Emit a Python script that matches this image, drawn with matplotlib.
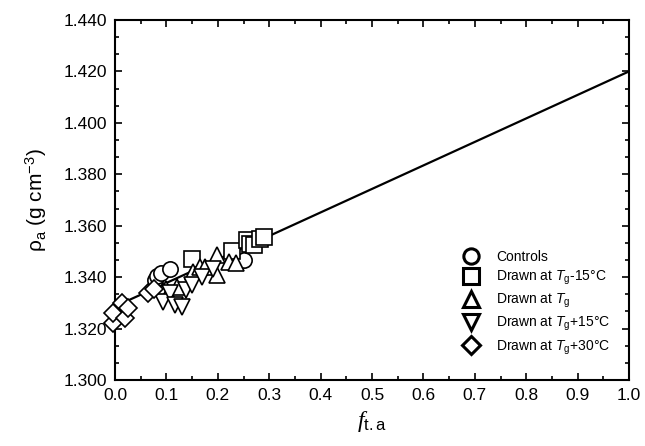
import matplotlib
matplotlib.use("Agg")
import matplotlib.pyplot as plt
from matplotlib.ticker import MultipleLocator

plt.rcParams['font.family'] = ['Liberation Sans', 'DejaVu Sans']
plt.rcParams['mathtext.fontset'] = 'custom'
plt.rcParams['mathtext.rm'] = 'Liberation Sans'
plt.rcParams['mathtext.it'] = 'Liberation Sans:italic'
plt.rcParams['mathtext.cal'] = 'Liberation Serif:italic'

# Data
controls_x = [0.078, 0.082, 0.090, 0.107, 0.250]
controls_y = [1.3390, 1.3405, 1.3415, 1.3430, 1.3465]

m15_x = [0.150, 0.227, 0.256, 0.262, 0.270, 0.282, 0.290]
m15_y = [1.3470, 1.3500, 1.3545, 1.3530, 1.3525, 1.3550, 1.3557]

tg_x = [0.100, 0.120, 0.152, 0.165, 0.175, 0.198, 0.198, 0.221, 0.235]
tg_y = [1.3355, 1.3360, 1.3420, 1.3440, 1.3440, 1.3486, 1.3408, 1.3460, 1.3455]

p15_x = [0.088, 0.094, 0.107, 0.117, 0.130, 0.139, 0.150, 0.170, 0.190]
p15_y = [1.3335, 1.3304, 1.3340, 1.3292, 1.3285, 1.3350, 1.3370, 1.3400, 1.3430]

p30_x = [-0.004, -0.003, 0.013, 0.019, 0.026, 0.065, 0.075]
p30_y = [1.3222, 1.3259, 1.3298, 1.3240, 1.3279, 1.3337, 1.3355]

fit_x = [0.0, 1.0]
fit_y = [1.3286, 1.4200]

labels = ['Controls', r'Drawn at $T_{\rm g}$-15°C', r'Drawn at $T_{\rm g}$',
          r'Drawn at $T_{\rm g}$+15°C', r'Drawn at $T_{\rm g}$+30°C']

fig = plt.figure(figsize=(6.45, 4.46), dpi=100)
ax = fig.add_axes([0.1783, 0.148, 0.9752 - 0.1783, 0.9552 - 0.148])

ax.plot(fit_x, fit_y, color='black', lw=1.6, zorder=1)

common = dict(ms=11, mfc='white', mec='black', mew=1.2, ls='none', clip_on=False, zorder=3)
series = [(controls_x, controls_y, 'o'), (m15_x, m15_y, 's'), (tg_x, tg_y, '^'),
          (p15_x, p15_y, 'v'), (p30_x, p30_y, 'D')]
handles = []
for (xs, ys, mk), lab in zip(series, labels):
    kw = dict(common)
    kw['ms'] = common['ms'] * (0.85 if mk == 'D' else 1.0)
    h, = ax.plot(xs, ys, marker=mk, label=lab, **kw)
    handles.append(h)

leg = ax.legend(handles=handles, loc='lower right', bbox_to_anchor=(0.986, 0.034),
                frameon=False, fontsize=10, handletextpad=1.2, labelspacing=0.35,
                handlelength=1.2, borderpad=0.3)
for lh in leg.legend_handles:
    lh.set_markeredgewidth(2.2)

ax.set_xlim(0.0, 1.0)
ax.set_ylim(1.300, 1.440)
ax.xaxis.set_major_locator(MultipleLocator(0.1))
ax.xaxis.set_minor_locator(MultipleLocator(0.05))
ax.yaxis.set_major_locator(MultipleLocator(0.02))
ax.yaxis.set_minor_locator(MultipleLocator(0.02 / 3))
ax.xaxis.set_major_formatter(plt.FormatStrFormatter('%.1f'))
ax.yaxis.set_major_formatter(plt.FormatStrFormatter('%.3f'))
ax.tick_params(which='both', direction='in', top=True, right=True, labelsize=12.5, width=1.2)
ax.tick_params(which='major', length=5, pad=6)
ax.tick_params(which='minor', length=3)
for s in ax.spines.values():
    s.set_linewidth(1.5)

ax.set_xlabel(r'$\mathcal{f}_{\rm t.a}$', fontsize=17, labelpad=4)
ax.set_ylabel(r'$\mathrm{ρ}_{\rm a}$ (g cm$^{-3}$)', fontsize=15, labelpad=10)

fig.savefig('out.png', dpi=100)
